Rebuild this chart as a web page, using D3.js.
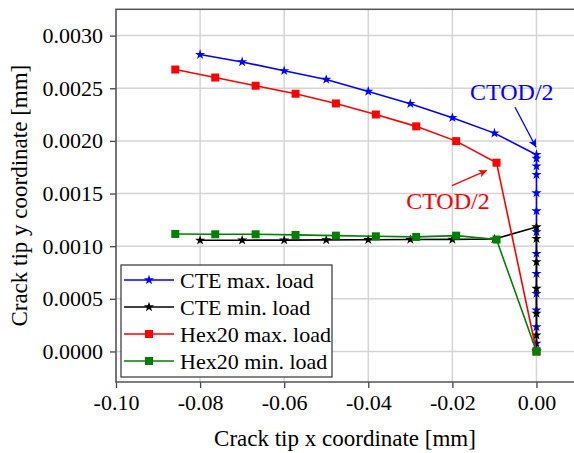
<!DOCTYPE html>
<html>
<head>
<meta charset="utf-8">
<script src="https://cdn.jsdelivr.net/npm/d3@7"></script>
<style>
  html, body { margin: 0; padding: 0; background: #fff; }
  svg { display: block; }
  text { font-family: "Liberation Serif", "Times New Roman", serif; }
</style>
</head>
<body>
<svg id="chart" width="574" height="453"></svg>
<script>
// ---------------- data ----------------
const cteMaxX = [-0.08, -0.07, -0.06, -0.05, -0.04, -0.03, -0.02, -0.01, 0, 0, 0, 0, 0, 0, 0, 0, 0, 0, 0, 0, 0, 0];
const cteMaxY = [0.00282, 0.00275, 0.002666, 0.002583, 0.00247, 0.002353, 0.00222, 0.002074, 0.001869, 0.001834, 0.001761, 0.001679, 0.001505, 0.001334, 0.001135, 0.00093, 0.00074, 0.00055, 0.000392, 0.000233, 0.000076, 0.0];

const cteMinX = [-0.08, -0.07, -0.06, -0.05, -0.04, -0.03, -0.02, -0.01, 0, 0, 0, 0, 0, 0, 0];
const cteMinY = [0.001056, 0.001057, 0.001058, 0.00106, 0.001061, 0.001063, 0.001065, 0.001068, 0.001182, 0.001072, 0.00085, 0.000598, 0.000361, 0.000155, 0.0];

const hexMaxX = [-0.0859, -0.0764, -0.0668, -0.0573, -0.0477, -0.0382, -0.0286, -0.0191, -0.0095, 0];
const hexMaxY = [0.002678, 0.002602, 0.002524, 0.002448, 0.002356, 0.002251, 0.002138, 0.001998, 0.001793, 0.0];

const hexMinX = [-0.0859, -0.0764, -0.0668, -0.0573, -0.0477, -0.0382, -0.0286, -0.0191, -0.0095, 0];
const hexMinY = [0.001116, 0.001113, 0.001113, 0.001107, 0.0011, 0.001094, 0.001088, 0.0011, 0.001063, 0.0];

const seriesNames = ["CTE max. load", "CTE min. load", "Hex20 max. load", "Hex20 min. load"];
const seriesColors = ["#0000ff", "#000000", "#ff0000", "#008000"];
const seriesMarkers = ["star", "star", "square", "square"];

const xTicks = [-0.10, -0.08, -0.06, -0.04, -0.02, 0.00];
const xTickLabels = ["-0.10", "-0.08", "-0.06", "-0.04", "-0.02", "0.00"];
const yTicks = [0.0000, 0.0005, 0.0010, 0.0015, 0.0020, 0.0025, 0.0030];
const yTickLabels = ["0.0000", "0.0005", "0.0010", "0.0015", "0.0020", "0.0025", "0.0030"];

const xTitle = "Crack tip x coordinate [mm]";
const yTitle = "Crack tip y coordinate [mm]";

// annotations: text position and arrow (data coords)
const annText = ["CTOD/2", "CTOD/2"];
const annColor = ["#0000ff", "#ff0000"];
const annTextX = [-0.0158, -0.0310];
const annTextY = [0.00239, 0.001357];
const annFromX = [-0.0051, -0.0201];
const annFromY = [0.00232, 0.001576];
const annToX = [-0.0001, -0.0118];
const annToY = [0.00194, 0.00172];

// ---------------- layout ----------------
const svg = d3.select("#chart");
const L = 116, R = 576, T = 9.3, B = 382;

const x = d3.scaleLinear().domain([-0.10, 0.0094]).range([L, R]);
const y = d3.scaleLinear().domain([-0.00029, 0.00325]).range([B, T]);

// grid
const grid = svg.append("g");
grid.selectAll("line.gx").data(xTicks).join("line")
  .attr("x1", d => x(d)).attr("x2", d => x(d)).attr("y1", T).attr("y2", B)
  .attr("stroke", "#d4d4d4").attr("stroke-width", 1.5);
grid.selectAll("line.gy").data(yTicks).join("line")
  .attr("y1", d => y(d)).attr("y2", d => y(d)).attr("x1", L).attr("x2", R)
  .attr("stroke", "#d4d4d4").attr("stroke-width", 1.5);

// axes
const xAxis = d3.axisBottom(x).tickValues(xTicks).tickFormat((d, i) => xTickLabels[i]).tickSizeInner(6).tickSizeOuter(0).tickPadding(6);
const yAxis = d3.axisLeft(y).tickValues(yTicks).tickFormat((d, i) => yTickLabels[i]).tickSizeInner(6).tickSizeOuter(0).tickPadding(7);

const gx = svg.append("g").attr("transform", `translate(0,${B})`).call(xAxis);
const gy = svg.append("g").attr("transform", `translate(${L},0)`).call(yAxis);
[gx, gy].forEach(g => {
  g.select(".domain").remove();
  g.selectAll(".tick line").attr("stroke", "#444").attr("stroke-width", 1.3);
  g.selectAll(".tick text").attr("fill", "#000").style("font-size", "22px")
    .style("font-family", "'Liberation Serif', serif");
});

// frame
svg.append("rect").attr("x", L).attr("y", T).attr("width", R - L).attr("height", B - T)
  .attr("fill", "none").attr("stroke", "#555").attr("stroke-width", 1.5);

// series
const star = d3.symbol().type(d3.symbolStar).size(32);
const square = d3.symbol().type(d3.symbolSquare).size(64);
const allX = [cteMaxX, cteMinX, hexMaxX, hexMinX];
const allY = [cteMaxY, cteMinY, hexMaxY, hexMinY];
const line = d3.line().x(d => x(d[0])).y(d => y(d[1]));

allX.forEach((xs, si) => {
  const pts = xs.map((v, i) => [v, allY[si][i]]);
  const g = svg.append("g");
  g.append("path").datum(pts).attr("d", line).attr("fill", "none")
    .attr("stroke", seriesColors[si]).attr("stroke-width", 1.6);
  g.selectAll("path.m").data(pts).join("path")
    .attr("transform", d => `translate(${x(d[0])},${y(d[1])})`)
    .attr("d", seriesMarkers[si] === "star" ? star : square)
    .attr("fill", seriesColors[si]);
});

// annotations
const defs = svg.append("defs");
annColor.forEach((c, i) => {
  defs.append("marker").attr("id", "ah" + i).attr("viewBox", "0 0 10 10")
    .attr("refX", 10).attr("refY", 5).attr("markerWidth", 10).attr("markerHeight", 8)
    .attr("markerUnits", "userSpaceOnUse").attr("orient", "auto")
    .append("path").attr("d", "M0,0 L10,5 L0,10 L2.5,5 Z").attr("fill", c);
  svg.append("line")
    .attr("x1", x(annFromX[i])).attr("y1", y(annFromY[i]))
    .attr("x2", x(annToX[i])).attr("y2", y(annToY[i]))
    .attr("stroke", c).attr("stroke-width", 1.3).attr("marker-end", `url(#ah${i})`);
  svg.append("text").attr("x", x(annTextX[i])).attr("y", y(annTextY[i]))
    .attr("fill", c).style("font-size", "24px").text(annText[i]);
});

// legend
const lg = svg.append("g");
lg.append("rect").attr("x", 121).attr("y", 265).attr("width", 211).attr("height", 112)
  .attr("fill", "#fff").attr("stroke", "#333").attr("stroke-width", 1.2);
seriesNames.forEach((name, i) => {
  const cy = 280 + i * 27;
  lg.append("line").attr("x1", 124).attr("x2", 174).attr("y1", cy).attr("y2", cy)
    .attr("stroke", seriesColors[i]).attr("stroke-width", 1.6);
  lg.append("path").attr("transform", `translate(149,${cy})`)
    .attr("d", seriesMarkers[i] === "star" ? star : square).attr("fill", seriesColors[i]);
  lg.append("text").attr("x", 180).attr("y", cy).attr("dy", "0.35em")
    .style("font-size", "22px").attr("fill", "#000").text(name);
});

// titles
svg.append("text").attr("x", (L + R) / 2 - 1).attr("y", 446).attr("text-anchor", "middle")
  .style("font-size", "23px").attr("fill", "#000").text(xTitle);
svg.append("text").attr("transform", `translate(27,${(T + B) / 2}) rotate(-90)`)
  .attr("text-anchor", "middle").style("font-size", "23px").attr("fill", "#000").text(yTitle);
</script>
</body>
</html>
